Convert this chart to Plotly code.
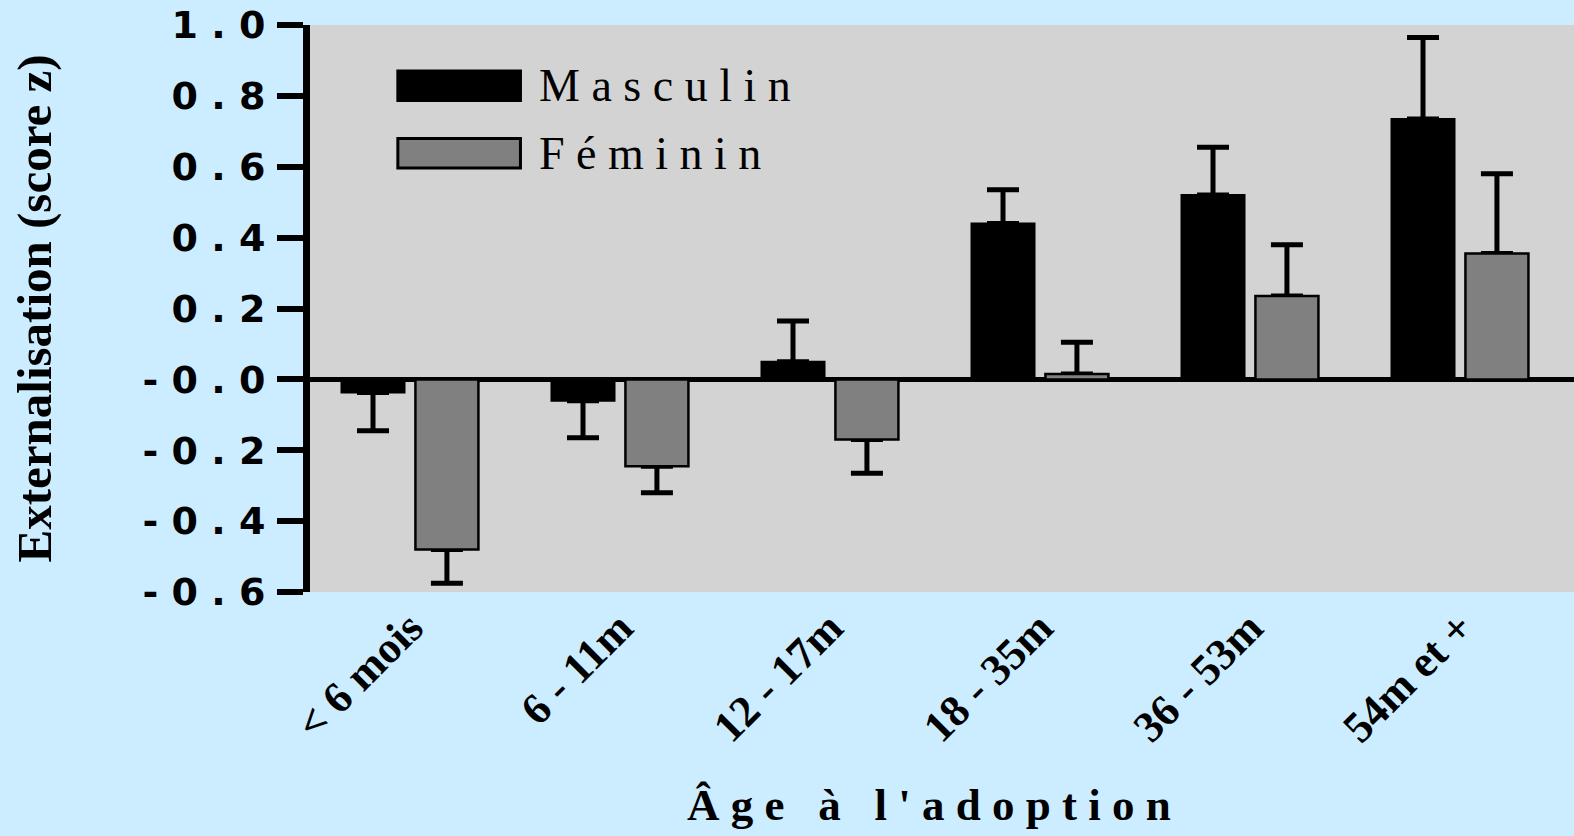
import plotly.graph_objects as go

categories = ["< 6 mois", "6 - 11m", "12 - 17m", "18 - 35m", "36 - 53m", "54m et +"]
masculin = [-0.037, -0.06, 0.05, 0.44, 0.52, 0.735]
masculin_err = [0.108, 0.105, 0.115, 0.095, 0.135, 0.23]
feminin = [-0.48, -0.245, -0.17, 0.015, 0.235, 0.355]
feminin_err = [0.095, 0.075, 0.095, 0.09, 0.145, 0.225]
y_ticks = [-0.6, -0.4, -0.2, 0.0, 0.2, 0.4, 0.6, 0.8, 1.0]

BG = "#CCECFF"
PLOT_BG = "#D3D3D3"
GRAY = "#808080"
OFF = 0.176
BW = 0.3


def spaced(s):
    return " ".join(list(s))


def ytext(v):
    s = f"{abs(v):.1f}"
    if v <= 0:
        s = "-" + s
    return spaced(s)


idx = list(range(len(categories)))
xm = [i - OFF for i in idx]
xf = [i + OFF for i in idx]


def one_sided(vals, errs):
    up = [e if v >= 0 else 0 for v, e in zip(vals, errs)]
    down = [e if v < 0 else 0 for v, e in zip(vals, errs)]
    return up, down


mu, md = one_sided(masculin, masculin_err)
fu, fd = one_sided(feminin, feminin_err)

fig = go.Figure()
for xs, vals, up, down in [(xm, masculin, mu, md), (xf, feminin, fu, fd)]:
    fig.add_trace(go.Bar(
        x=xs, y=vals, width=BW,
        marker=dict(color="rgba(0,0,0,0)", line=dict(width=0)),
        error_y=dict(type="data", symmetric=False, array=up, arrayminus=down,
                     color="black", thickness=5, width=16),
        showlegend=False, hoverinfo="skip",
    ))
fig.add_trace(go.Bar(
    x=xm, y=masculin, width=BW, name="Masculin",
    marker=dict(color="black", line=dict(color="black", width=2)),
    showlegend=False,
))
fig.add_trace(go.Bar(
    x=xf, y=feminin, width=BW, name="Féminin",
    marker=dict(color=GRAY, line=dict(color="black", width=2.5)),
    showlegend=False,
))

fig.update_layout(
    width=1574, height=836,
    paper_bgcolor=BG, plot_bgcolor=PLOT_BG,
    margin=dict(l=310, r=0, t=25, b=244),
    barmode="overlay",
    showlegend=False,
    xaxis=dict(
        range=[-0.476, 5.543],
        tickmode="array", tickvals=idx, ticktext=categories,
        tickangle=-45,
        tickfont=dict(family="Liberation Serif", size=44, color="black", weight="bold"),
        showgrid=False, zeroline=False, showline=False, ticks="",
    ),
    yaxis=dict(
        range=[-0.6, 1.0],
        tickmode="array", tickvals=y_ticks, ticktext=[ytext(v) for v in y_ticks],
        tickfont=dict(family="DejaVu Sans", size=38, color="black", weight="bold"),
        ticks="outside", ticklen=26, tickwidth=6, tickcolor="black",
        showline=True, linewidth=7, linecolor="black",
        showgrid=False,
        zeroline=True, zerolinecolor="black", zerolinewidth=5,
        ticklabelstandoff=4,
    ),
)

fig.add_annotation(
    text="Externalisation (score z)", textangle=-90,
    xref="paper", yref="paper", x=-0.2176, y=0.5, xanchor="center", yanchor="middle",
    showarrow=False,
    font=dict(family="Liberation Serif", size=49, color="black", weight="bold"),
)
fig.add_annotation(
    text=spaced("Âge") + "   à   " + spaced("l'adoption"),
    xref="paper", yref="paper", x=0.49, y=-0.376, xanchor="center", yanchor="middle",
    showarrow=False,
    font=dict(family="Liberation Serif", size=45, color="black", weight="bold"),
)

legend_items = [("Masculin", "black", 0.893), ("Féminin", GRAY, 0.774)]
for label, color, yc in legend_items:
    fig.add_shape(type="rect", xref="paper", yref="paper",
                  x0=0.0695, x1=0.1665, y0=yc - 0.026, y1=yc + 0.026,
                  fillcolor=color, line=dict(color="black", width=3), layer="above")
    fig.add_annotation(text=spaced(label), xref="paper", yref="paper",
                       x=0.1796, y=yc, xanchor="left", yanchor="middle", showarrow=False,
                       font=dict(family="Liberation Serif", size=46, color="black"))

fig.write_html(
    "out.html",
    config={"displayModeBar": False},
    post_script="document.body.style.margin='0';document.body.style.background='%s';" % BG,
)
